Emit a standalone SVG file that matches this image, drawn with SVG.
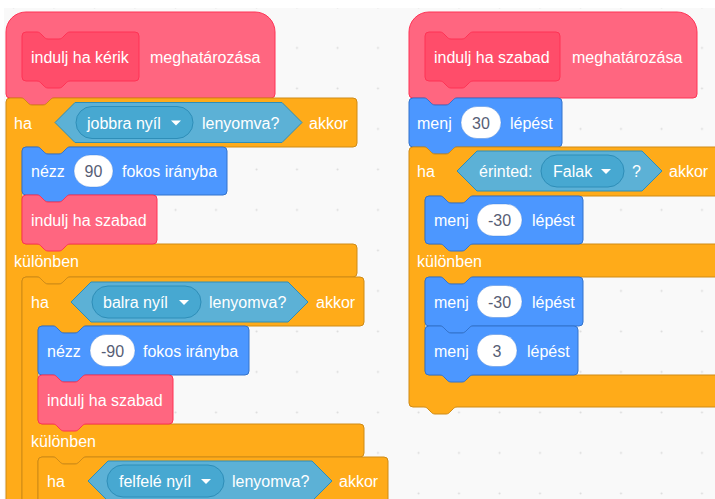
<svg xmlns="http://www.w3.org/2000/svg" width="715" height="499" viewBox="0 0 715 499">
<defs>
<style>
.custom{fill:#FF6680;stroke:#FF3355;stroke-width:1}
.custom2{fill:#FF4D6A;stroke:#FF3355;stroke-width:1}
.control{fill:#FFAB19;stroke:#CF8B17;stroke-width:1}
.motion{fill:#4C97FF;stroke:#3373CC;stroke-width:1}
.sensing{fill:#5CB1D6;stroke:#2E8EB8;stroke-width:1}
.sensing2{fill:#47A8D1;stroke:#2E8EB8;stroke-width:1}
.input{fill:#FFFFFF;stroke:#3373CC;stroke-opacity:0.35;stroke-width:1}
.arrow{fill:#FFFFFF}
text{font-family:"Liberation Sans",Arial,Helvetica,sans-serif;font-size:16px;fill:#FFFFFF}
text.val{fill:#575E75;text-anchor:middle}
</style>
<pattern id="grid" x="0" y="0" width="40.5" height="40.5" patternUnits="userSpaceOnUse">
<circle cx="13.5" cy="7.5" r="1" fill="#DADADA"/>
</pattern>
</defs>
<rect width="715" height="499" fill="#FFFFFF"/>
<rect x="4" y="8" width="711" height="491" fill="#F9F9F9"/>
<rect x="4" y="8" width="711" height="491" fill="url(#grid)"/>
<g id="connectors"/>

<!-- LEFT SCRIPT -->
<g id="hat-left">
<path class="custom" d="M 6,32 a20,20 0 0 1 20,-20 H 255 a20,20 0 0 1 20,20 V 94 a4,4 0 0 1 -4,4 H 54 c -2,0 -3,1 -4,2 l -3,3 c -1,1 -2,2 -4,2 h -11 c -2,0 -3,-1 -4,-2 l -3,-3 c -1,-1 -2,-2 -4,-2 H 10 a4,4 0 0 1 -4,-4 Z"/>
<path class="custom2" d="M 22,36 a4,4 0 0 1 4,-4 H 37 c 2,0 3,1 4,2 l 3,3 c 1,1 2,2 4,2 h 11 c 2,0 3,-1 4,-2 l 3,-3 c 1,-1 2,-2 4,-2 H 135 a4,4 0 0 1 4,4 V 77 a4,4 0 0 1 -4,4 H 70 c -2,0 -3,1 -4,2 l -3,3 c -1,1 -2,2 -4,2 h -11 c -2,0 -3,-1 -4,-2 l -3,-3 c -1,-1 -2,-2 -4,-2 H 26 a4,4 0 0 1 -4,-4 Z"/>
<text x="31" y="63">indulj ha kérik</text>
<text x="150" y="63">meghatározása</text>
</g>

<g id="if-right-arrow">
<path class="control" d="M 6,102 a4,4 0 0 1 4,-4 H 21 c 2,0 3,1 4,2 l 3,3 c 1,1 2,2 4,2 h 11 c 2,0 3,-1 4,-2 l 3,-3 c 1,-1 2,-2 4,-2 H 353 a4,4 0 0 1 4,4 V 143 a4,4 0 0 1 -4,4 H 70 c -2,0 -3,1 -4,2 l -3,3 c -1,1 -2,2 -4,2 h -11 c -2,0 -3,-1 -4,-2 l -3,-3 c -1,-1 -2,-2 -4,-2 H 26 a4,4 0 0 0 -4,4 V 240 a4,4 0 0 0 4,4 H 353 a4,4 0 0 1 4,4 V 273 a4,4 0 0 1 -4,4 H 70 c -2,0 -3,1 -4,2 l -3,3 c -1,1 -2,2 -4,2 h -11 c -2,0 -3,-1 -4,-2 l -3,-3 c -1,-1 -2,-2 -4,-2 H 26 a4,4 0 0 0 -4,4 V 510 H 6 Z"/>
<text x="14" y="128.5">ha</text>
<path class="sensing" d="M 55,122.5 L 75,102.5 H 282 L 302,122.5 L 282,142.5 H 75 Z"/>
<rect class="sensing2" x="76" y="106.5" width="117" height="32" rx="16"/>
<text x="87" y="128.5">jobbra nyíl</text>
<path class="arrow" d="M 171,120.5 h 10 l -5,5 z"/>
<text x="202" y="128.5">lenyomva?</text>
<text x="309" y="128.5">akkor</text>
<text x="14" y="266.5">különben</text>
</g>

<g id="point-90">
<path class="motion" d="M 22,151 a4,4 0 0 1 4,-4 H 37 c 2,0 3,1 4,2 l 3,3 c 1,1 2,2 4,2 h 11 c 2,0 3,-1 4,-2 l 3,-3 c 1,-1 2,-2 4,-2 H 223 a4,4 0 0 1 4,4 V 191 a4,4 0 0 1 -4,4 H 70 c -2,0 -3,1 -4,2 l -3,3 c -1,1 -2,2 -4,2 h -11 c -2,0 -3,-1 -4,-2 l -3,-3 c -1,-1 -2,-2 -4,-2 H 26 a4,4 0 0 1 -4,-4 Z"/>
<text x="31" y="177">nézz</text>
<rect class="input" x="74" y="155" width="39" height="32" rx="16"/>
<text class="val" x="93.5" y="177">90</text>
<text x="122" y="177">fokos irányba</text>
</g>

<g id="call-szabad-1">
<path class="custom" d="M 22,199 a4,4 0 0 1 4,-4 H 37 c 2,0 3,1 4,2 l 3,3 c 1,1 2,2 4,2 h 11 c 2,0 3,-1 4,-2 l 3,-3 c 1,-1 2,-2 4,-2 H 153 a4,4 0 0 1 4,4 V 240 a4,4 0 0 1 -4,4 H 70 c -2,0 -3,1 -4,2 l -3,3 c -1,1 -2,2 -4,2 h -11 c -2,0 -3,-1 -4,-2 l -3,-3 c -1,-1 -2,-2 -4,-2 H 26 a4,4 0 0 1 -4,-4 Z"/>
<text x="31" y="225.5">indulj ha szabad</text>
</g>

<g id="if-left-arrow">
<path class="control" d="M 22,281 a4,4 0 0 1 4,-4 H 37 c 2,0 3,1 4,2 l 3,3 c 1,1 2,2 4,2 h 11 c 2,0 3,-1 4,-2 l 3,-3 c 1,-1 2,-2 4,-2 H 360 a4,4 0 0 1 4,4 V 322 a4,4 0 0 1 -4,4 H 86 c -2,0 -3,1 -4,2 l -3,3 c -1,1 -2,2 -4,2 h -11 c -2,0 -3,-1 -4,-2 l -3,-3 c -1,-1 -2,-2 -4,-2 H 42 a4,4 0 0 0 -4,4 V 420 a4,4 0 0 0 4,4 H 360 a4,4 0 0 1 4,4 V 453 a4,4 0 0 1 -4,4 H 86 c -2,0 -3,1 -4,2 l -3,3 c -1,1 -2,2 -4,2 h -11 c -2,0 -3,-1 -4,-2 l -3,-3 c -1,-1 -2,-2 -4,-2 H 42 a4,4 0 0 0 -4,4 V 510 H 22 Z"/>
<text x="31" y="307.5">ha</text>
<path class="sensing" d="M 71,302 L 91,282 H 288 L 308,302 L 288,322 H 91 Z"/>
<rect class="sensing2" x="92" y="286" width="109" height="32" rx="16"/>
<text x="103" y="308">balra nyíl</text>
<path class="arrow" d="M 179,300 h 10 l -5,5 z"/>
<text x="209" y="308">lenyomva?</text>
<text x="316" y="308">akkor</text>
<text x="31" y="446.5">különben</text>
</g>

<g id="point-minus90">
<path class="motion" d="M 38,330 a4,4 0 0 1 4,-4 H 53 c 2,0 3,1 4,2 l 3,3 c 1,1 2,2 4,2 h 11 c 2,0 3,-1 4,-2 l 3,-3 c 1,-1 2,-2 4,-2 H 245 a4,4 0 0 1 4,4 V 371 a4,4 0 0 1 -4,4 H 86 c -2,0 -3,1 -4,2 l -3,3 c -1,1 -2,2 -4,2 h -11 c -2,0 -3,-1 -4,-2 l -3,-3 c -1,-1 -2,-2 -4,-2 H 42 a4,4 0 0 1 -4,-4 Z"/>
<text x="47" y="356.5">nézz</text>
<rect class="input" x="90" y="334.5" width="45" height="32" rx="16"/>
<text class="val" x="112.5" y="356.5">-90</text>
<text x="143" y="356.5">fokos irányba</text>
</g>

<g id="call-szabad-2">
<path class="custom" d="M 38,379 a4,4 0 0 1 4,-4 H 53 c 2,0 3,1 4,2 l 3,3 c 1,1 2,2 4,2 h 11 c 2,0 3,-1 4,-2 l 3,-3 c 1,-1 2,-2 4,-2 H 169 a4,4 0 0 1 4,4 V 420 a4,4 0 0 1 -4,4 H 86 c -2,0 -3,1 -4,2 l -3,3 c -1,1 -2,2 -4,2 h -11 c -2,0 -3,-1 -4,-2 l -3,-3 c -1,-1 -2,-2 -4,-2 H 42 a4,4 0 0 1 -4,-4 Z"/>
<text x="47" y="405.5">indulj ha szabad</text>
</g>

<g id="if-up-arrow">
<path class="control" d="M 38,461 a4,4 0 0 1 4,-4 H 53 c 2,0 3,1 4,2 l 3,3 c 1,1 2,2 4,2 h 11 c 2,0 3,-1 4,-2 l 3,-3 c 1,-1 2,-2 4,-2 H 384 a4,4 0 0 1 4,4 V 510 H 38 Z"/>
<text x="47" y="487">ha</text>
<path class="sensing" d="M 88,481 L 108,461 H 312 L 332,481 L 312,501 H 108 Z"/>
<rect class="sensing2" x="107" y="465" width="117" height="32" rx="16"/>
<text x="119" y="487">felfelé nyíl</text>
<path class="arrow" d="M 201,479 h 10 l -5,5 z"/>
<text x="232" y="487">lenyomva?</text>
<text x="339" y="487">akkor</text>
</g>

<!-- RIGHT SCRIPT -->
<g id="hat-right">
<path class="custom" d="M 409,32 a20,20 0 0 1 20,-20 H 677 a20,20 0 0 1 20,20 V 94 a4,4 0 0 1 -4,4 H 457 c -2,0 -3,1 -4,2 l -3,3 c -1,1 -2,2 -4,2 h -11 c -2,0 -3,-1 -4,-2 l -3,-3 c -1,-1 -2,-2 -4,-2 H 413 a4,4 0 0 1 -4,-4 Z"/>
<path class="custom2" d="M 425,36 a4,4 0 0 1 4,-4 H 440 c 2,0 3,1 4,2 l 3,3 c 1,1 2,2 4,2 h 11 c 2,0 3,-1 4,-2 l 3,-3 c 1,-1 2,-2 4,-2 H 556 a4,4 0 0 1 4,4 V 77 a4,4 0 0 1 -4,4 H 473 c -2,0 -3,1 -4,2 l -3,3 c -1,1 -2,2 -4,2 h -11 c -2,0 -3,-1 -4,-2 l -3,-3 c -1,-1 -2,-2 -4,-2 H 429 a4,4 0 0 1 -4,-4 Z"/>
<text x="434" y="63">indulj ha szabad</text>
<text x="572" y="63">meghatározása</text>
</g>

<g id="move-30">
<path class="motion" d="M 409,102 a4,4 0 0 1 4,-4 H 424 c 2,0 3,1 4,2 l 3,3 c 1,1 2,2 4,2 h 11 c 2,0 3,-1 4,-2 l 3,-3 c 1,-1 2,-2 4,-2 H 558 a4,4 0 0 1 4,4 V 143 a4,4 0 0 1 -4,4 H 457 c -2,0 -3,1 -4,2 l -3,3 c -1,1 -2,2 -4,2 h -11 c -2,0 -3,-1 -4,-2 l -3,-3 c -1,-1 -2,-2 -4,-2 H 413 a4,4 0 0 1 -4,-4 Z"/>
<text x="417" y="128.5">menj</text>
<rect class="input" x="461" y="106.5" width="40" height="32" rx="16"/>
<text class="val" x="481" y="128.5">30</text>
<text x="510" y="128.5">lépést</text>
</g>

<g id="if-touching-walls">
<path class="control" d="M 409,151 a4,4 0 0 1 4,-4 H 424 c 2,0 3,1 4,2 l 3,3 c 1,1 2,2 4,2 h 11 c 2,0 3,-1 4,-2 l 3,-3 c 1,-1 2,-2 4,-2 H 740 V 196 H 473 c -2,0 -3,1 -4,2 l -3,3 c -1,1 -2,2 -4,2 h -11 c -2,0 -3,-1 -4,-2 l -3,-3 c -1,-1 -2,-2 -4,-2 H 429 a4,4 0 0 0 -4,4 V 240 a4,4 0 0 0 4,4 H 740 V 277 H 473 c -2,0 -3,1 -4,2 l -3,3 c -1,1 -2,2 -4,2 h -11 c -2,0 -3,-1 -4,-2 l -3,-3 c -1,-1 -2,-2 -4,-2 H 429 a4,4 0 0 0 -4,4 V 371 a4,4 0 0 0 4,4 H 740 V 407 H 457 c -2,0 -3,1 -4,2 l -3,3 c -1,1 -2,2 -4,2 h -11 c -2,0 -3,-1 -4,-2 l -3,-3 c -1,-1 -2,-2 -4,-2 H 413 a4,4 0 0 1 -4,-4 Z"/>
<text x="417" y="177">ha</text>
<path class="sensing" d="M 457,171 L 477,151 H 642 L 662,171 L 642,191 H 477 Z"/>
<text x="479" y="177">érinted:</text>
<rect class="sensing2" x="541" y="155" width="83" height="32" rx="16"/>
<text x="553" y="177">Falak</text>
<path class="arrow" d="M 601,169 h 10 l -5,5 z"/>
<text x="632" y="177">?</text>
<text x="669" y="177">akkor</text>
<text x="417" y="266.5">különben</text>
</g>

<g id="move-minus30-a">
<path class="motion" d="M 425,200 a4,4 0 0 1 4,-4 H 440 c 2,0 3,1 4,2 l 3,3 c 1,1 2,2 4,2 h 11 c 2,0 3,-1 4,-2 l 3,-3 c 1,-1 2,-2 4,-2 H 579 a4,4 0 0 1 4,4 V 240 a4,4 0 0 1 -4,4 H 473 c -2,0 -3,1 -4,2 l -3,3 c -1,1 -2,2 -4,2 h -11 c -2,0 -3,-1 -4,-2 l -3,-3 c -1,-1 -2,-2 -4,-2 H 429 a4,4 0 0 1 -4,-4 Z"/>
<text x="434" y="226">menj</text>
<rect class="input" x="477" y="204" width="45" height="32" rx="16"/>
<text class="val" x="499.5" y="226">-30</text>
<text x="532" y="226">lépést</text>
</g>

<g id="move-minus30-b">
<path class="motion" d="M 425,281 a4,4 0 0 1 4,-4 H 440 c 2,0 3,1 4,2 l 3,3 c 1,1 2,2 4,2 h 11 c 2,0 3,-1 4,-2 l 3,-3 c 1,-1 2,-2 4,-2 H 579 a4,4 0 0 1 4,4 V 322 a4,4 0 0 1 -4,4 H 473 c -2,0 -3,1 -4,2 l -3,3 c -1,1 -2,2 -4,2 h -11 c -2,0 -3,-1 -4,-2 l -3,-3 c -1,-1 -2,-2 -4,-2 H 429 a4,4 0 0 1 -4,-4 Z"/>
<text x="434" y="307.5">menj</text>
<rect class="input" x="477" y="285.5" width="45" height="32" rx="16"/>
<text class="val" x="499.5" y="307.5">-30</text>
<text x="532" y="307.5">lépést</text>
</g>

<g id="move-3">
<path class="motion" d="M 425,330 a4,4 0 0 1 4,-4 H 440 c 2,0 3,1 4,2 l 3,3 c 1,1 2,2 4,2 h 11 c 2,0 3,-1 4,-2 l 3,-3 c 1,-1 2,-2 4,-2 H 574 a4,4 0 0 1 4,4 V 371 a4,4 0 0 1 -4,4 H 473 c -2,0 -3,1 -4,2 l -3,3 c -1,1 -2,2 -4,2 h -11 c -2,0 -3,-1 -4,-2 l -3,-3 c -1,-1 -2,-2 -4,-2 H 429 a4,4 0 0 1 -4,-4 Z"/>
<text x="434" y="356.5">menj</text>
<rect class="input" x="477" y="334.5" width="40" height="32" rx="16"/>
<text class="val" x="497" y="356.5">3</text>
<text x="527" y="356.5">lépést</text>
</g>
</svg>
